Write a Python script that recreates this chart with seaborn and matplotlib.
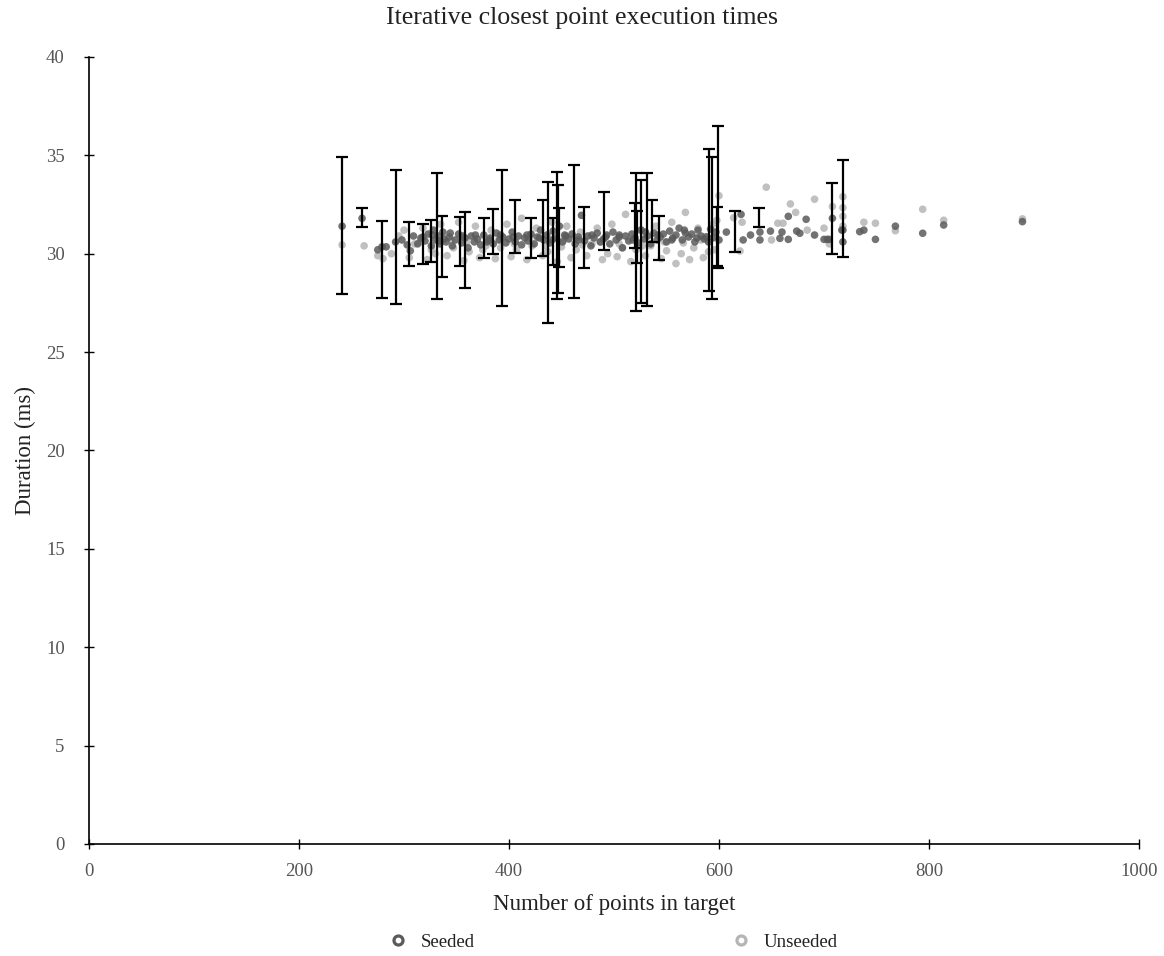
import matplotlib
matplotlib.use("Agg")
import matplotlib.pyplot as plt
from matplotlib.lines import Line2D
import seaborn as sns
import pandas as pd
import numpy as np

# ---------------- data ----------------
seeded_x = [241, 260, 275, 279, 283, 292, 298, 303, 306, 309, 313, 316, 320, 323, 326, 328, 330, 332, 334, 337,
            340, 343, 346, 349, 352, 355, 358, 361, 364, 367, 370, 373, 376, 379, 382, 385, 388, 391, 394, 397,
            400, 403, 406, 409, 412, 415, 418, 421, 424, 427, 430, 433, 436, 439, 442, 445, 448, 451, 454, 457,
            460, 463, 466, 469, 472, 475, 478, 481, 484, 487, 490, 493, 496, 499, 502, 505, 508, 511, 514, 517,
            520, 523, 526, 529, 532, 535, 538, 541, 544, 547, 550, 553, 556, 559, 562, 565, 568, 571, 574, 577,
            580, 583, 586, 588, 590, 594, 597, 600, 607, 621, 623, 630, 639, 639, 649, 658, 660, 666, 666, 674,
            677, 683, 691, 700, 703, 705, 708, 717, 718, 718, 734, 738, 749, 768, 794, 814, 889,
            318, 327, 333, 338, 344, 356, 368, 381, 392, 404, 417, 429, 441, 453, 466, 479, 492, 505, 518, 530,
            542, 555, 567, 579, 592]
seeded_y = [31.40, 31.80, 30.20, 30.35, 30.35, 30.60, 30.70, 30.45, 30.15, 30.90, 30.50, 30.80, 30.65, 31.00, 30.40, 31.20, 30.70, 30.90, 30.50, 31.10,
            30.60, 30.85, 30.40, 30.70, 31.00, 30.55, 30.80, 30.30, 30.90, 30.60, 30.75, 30.45, 30.95, 30.60, 30.80, 30.50, 31.05, 30.70, 30.85, 30.55,
            30.75, 31.10, 30.60, 30.90, 30.45, 30.80, 30.65, 31.00, 30.50, 30.85, 31.20, 30.70, 30.95, 30.55, 31.15, 30.80, 31.40, 30.60, 30.90, 30.75,
            31.00, 30.50, 30.85, 31.95, 30.65, 30.90, 30.40, 30.80, 31.05, 30.60, 30.75, 30.95, 30.50, 31.10, 30.70, 30.85, 30.30, 30.90, 30.65, 31.00,
            30.80, 30.55, 31.20, 30.75, 30.90, 30.50, 31.05, 30.70, 30.85, 31.00, 30.60, 31.15, 30.80, 30.95, 31.30, 30.70, 31.05, 30.85, 31.00, 30.60,
            31.20, 30.90, 30.75, 30.86, 30.60, 30.80, 31.10, 30.70, 31.10, 32.00, 30.70, 30.95, 31.10, 30.70, 31.15, 30.78, 31.10, 31.90, 30.73, 31.15,
            31.04, 31.75, 30.95, 30.73, 30.73, 30.73, 31.80, 31.20, 31.20, 30.60, 31.12, 31.20, 30.73, 31.40, 31.04, 31.46, 31.63,
            30.85, 30.95, 30.65, 30.75, 31.05, 30.90, 30.95, 30.70, 30.95, 30.85, 30.95, 30.80, 30.70, 30.95, 30.70, 30.95, 30.85, 30.95, 30.70, 31.10,
            30.95, 30.70, 31.20, 30.80, 31.25]

unseeded_x = [241, 262, 275, 280, 288, 295, 300, 305, 310, 318, 322, 326, 335, 341, 347, 352, 357, 362, 368, 372,
              378, 383, 387, 392, 398, 402, 407, 412, 417, 422, 426, 432, 437, 441, 446, 450, 455, 459, 464, 468,
              474, 479, 484, 489, 494, 498, 503, 508, 511, 516, 521, 525, 530, 535, 540, 545, 550, 555, 559, 564,
              568, 572, 576, 580, 585, 590, 594, 596, 598, 600, 614, 620, 622, 645, 650, 656, 661, 668, 673, 684,
              691, 700, 705, 708, 718, 718, 718, 718, 738, 749, 768, 794, 814, 889,
              315, 330, 345, 360, 375, 390, 405, 420, 435, 452, 470, 487, 505, 527, 548, 566, 583]
unseeded_y = [30.45, 30.40, 29.90, 29.75, 30.00, 30.90, 31.20, 29.80, 30.50, 31.30, 29.70, 30.20, 31.50, 29.90, 30.30, 31.60, 29.65, 30.10, 31.40, 29.80,
              30.40, 31.20, 29.75, 30.30, 31.50, 29.85, 30.20, 31.80, 29.70, 30.40, 31.30, 29.90, 30.10, 31.60, 29.60, 30.35, 31.40, 29.80, 30.20, 31.10,
              29.90, 30.50, 31.30, 29.70, 30.00, 31.50, 29.85, 30.30, 32.00, 29.60, 30.20, 31.20, 29.90, 30.40, 31.40, 29.75, 30.15, 31.60, 29.50, 30.00,
              32.10, 29.70, 30.30, 31.30, 29.80, 30.10, 31.50, 30.20, 31.70, 32.95, 31.83, 30.14, 31.60, 33.38, 30.70, 31.55, 31.55, 32.53, 32.10, 31.20,
              32.77, 31.30, 30.50, 32.40, 32.90, 32.34, 31.90, 31.40, 31.60, 31.55, 31.17, 32.26, 31.70, 31.77,
              30.60, 30.00, 30.70, 30.60, 30.20, 30.70, 30.50, 30.80, 30.40, 30.70, 30.45, 30.60, 30.50, 30.40, 30.60, 30.55, 30.70]

eb_x = [241, 260, 279, 292, 305, 318, 326, 331, 336, 353, 358, 376, 385, 393, 406, 421, 432, 437, 442, 446,
        447, 448, 462, 471, 490, 520, 521, 522, 526, 531, 536, 543, 590, 593, 598, 599, 615, 638, 708, 718]
eb_low = [27.95, 31.35, 27.75, 27.45, 29.40, 29.50, 29.60, 27.70, 28.80, 29.40, 28.25, 29.78, 30.00, 27.36, 30.03, 29.78, 29.90, 26.50, 29.43, 27.70,
          28.00, 29.30, 27.75, 29.27, 30.19, 30.30, 27.07, 29.55, 27.50, 27.35, 30.60, 29.68, 28.10, 27.68, 29.38, 29.26, 30.10, 31.34, 30.00, 29.83]
eb_high = [34.90, 32.30, 31.67, 34.25, 31.60, 31.50, 31.70, 34.10, 31.90, 31.85, 32.10, 31.83, 32.27, 34.25, 32.75, 31.83, 32.75, 33.63, 31.83, 34.15,
           33.50, 32.30, 34.50, 32.40, 33.15, 32.60, 34.09, 32.17, 33.75, 34.09, 32.75, 31.92, 35.32, 34.93, 32.40, 36.50, 32.17, 32.34, 33.57, 34.74]

series_names = ["Seeded", "Unseeded"]
x_ticks = [0, 200, 400, 600, 800, 1000]
y_ticks = [0, 5, 10, 15, 20, 25, 30, 35, 40]

# ---------------- style ----------------
sns.set_style("ticks")
plt.rcParams["font.family"] = ["Liberation Serif", "DejaVu Serif"]

seed_col = "#5a5a5a"
unseed_col = "#b5b5b5"

df = pd.concat([
    pd.DataFrame({"x": unseeded_x, "y": unseeded_y, "series": series_names[1]}),
    pd.DataFrame({"x": seeded_x, "y": seeded_y, "series": series_names[0]}),
])

fig = plt.figure(figsize=(11.64, 9.56), dpi=100)
ax = fig.add_axes([0.0765, 0.1172, 0.902, 0.8232])

sns.scatterplot(data=df[df.series == "Unseeded"], x="x", y="y", color=unseed_col, s=30,
                edgecolor="none", alpha=0.85, ax=ax, legend=False, zorder=2)
sns.scatterplot(data=df[df.series == "Seeded"], x="x", y="y", color=seed_col, s=30,
                edgecolor="none", alpha=0.85, ax=ax, legend=False, zorder=3)

eb_x_a = np.array(eb_x, dtype=float)
lo = np.array(eb_low)
hi = np.array(eb_high)
mid = (lo + hi) / 2
ax.errorbar(eb_x_a, mid, yerr=(hi - lo) / 2, fmt="none", ecolor="black",
            elinewidth=1.6, capsize=4, capthick=1.6, zorder=4)

ax.set_xlim(0, 1000)
ax.set_ylim(0, 40)
ax.set_xticks(x_ticks)
ax.set_yticks(y_ticks)
ax.tick_params(direction="inout", length=7, width=1, colors="black", labelcolor="#555555", labelsize=13.5)
ax.tick_params(axis="y", pad=14)
ax.tick_params(axis="x", pad=10)
for side in ["top", "right"]:
    ax.spines[side].set_visible(False)
for side in ["left", "bottom"]:
    ax.spines[side].set_linewidth(1.2)
    ax.spines[side].set_color("black")

ax.set_xlabel("Number of points in target", fontsize=16.5, labelpad=10, color="#222222")
ax.set_ylabel("Duration (ms)", fontsize=16.5, labelpad=7, color="#222222")
fig.text(0.5, 0.981, "Iterative closest point execution times", ha="center", va="center",
         fontsize=18.6, color="#222222")

handles = [Line2D([], [], marker="o", linestyle="none", markersize=6.5, markerfacecolor="white",
                  markeredgecolor=seed_col, markeredgewidth=2.3),
           Line2D([], [], marker="o", linestyle="none", markersize=6.5, markerfacecolor="white",
                  markeredgecolor=unseed_col, markeredgewidth=2.3)]
fig.legend(handles, series_names, loc="center", bbox_to_anchor=(0.5265, 0.0146), ncol=2,
           frameon=False, fontsize=13.5, columnspacing=13.7, handlelength=1.0, handletextpad=0.7,
           labelcolor="#222222")

fig.savefig("out.png", dpi=100)
